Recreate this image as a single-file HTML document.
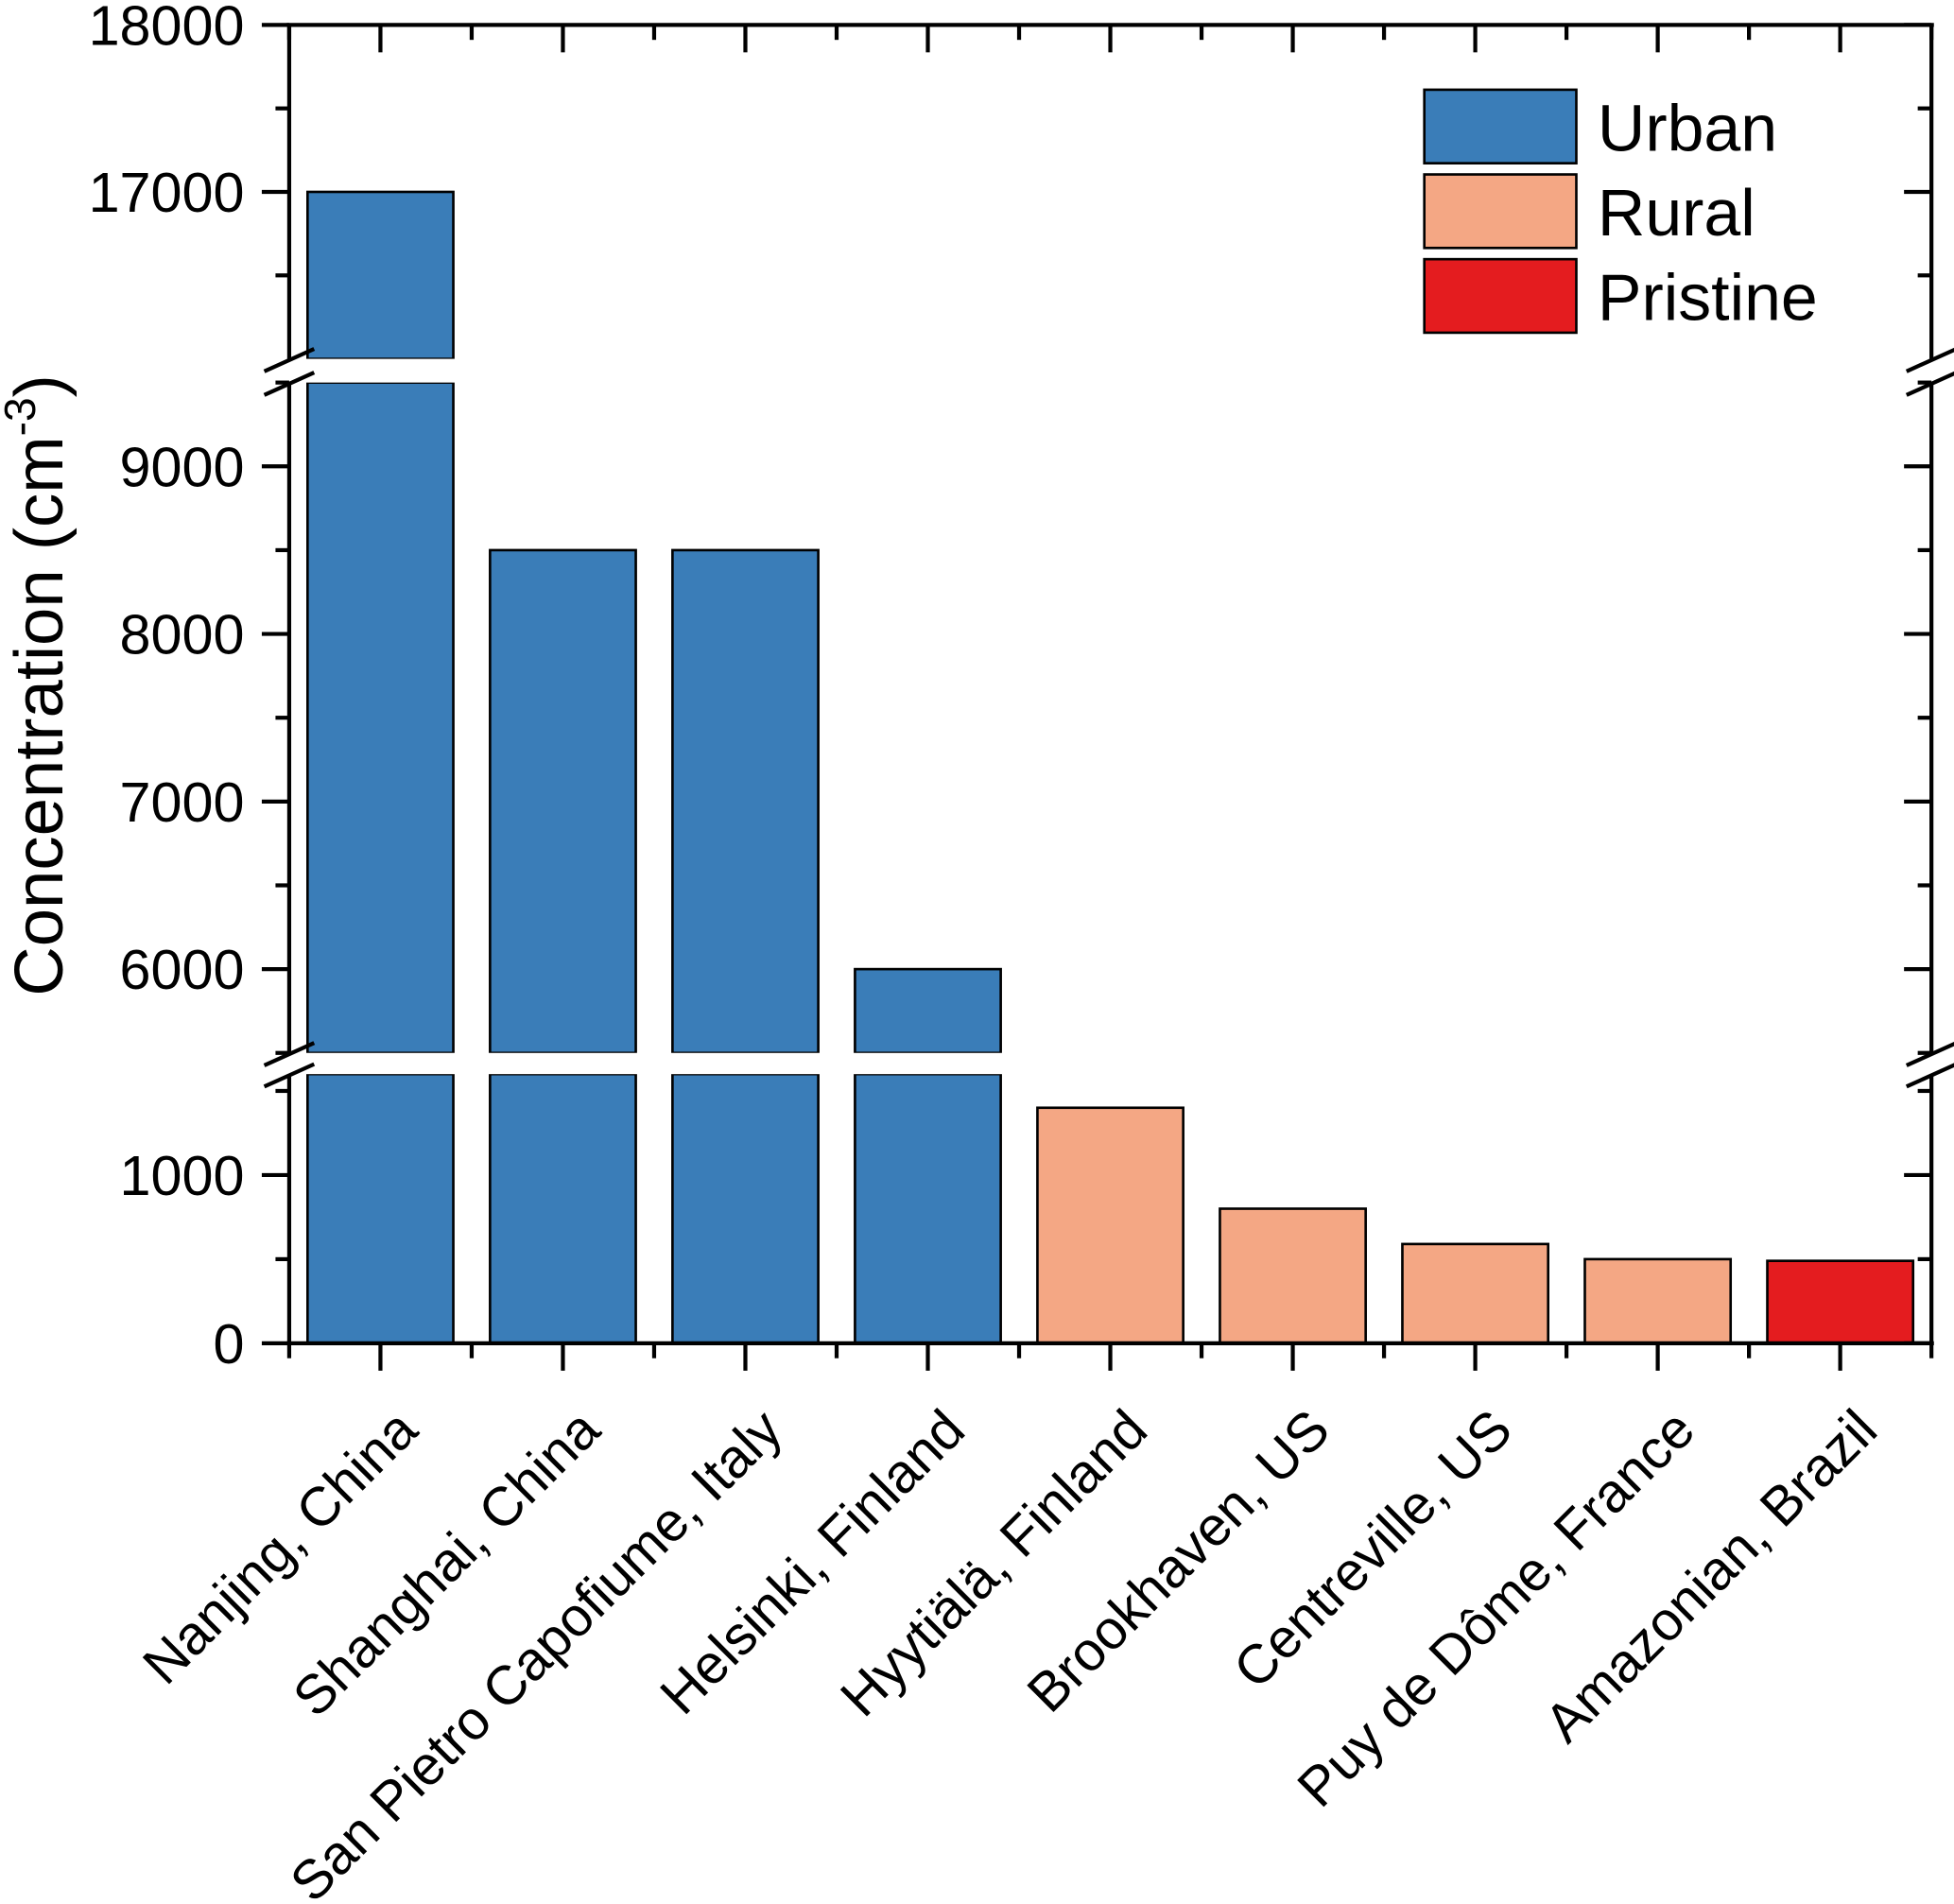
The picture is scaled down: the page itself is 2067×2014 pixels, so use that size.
<!DOCTYPE html>
<html><head><meta charset="utf-8"><style>
html,body{margin:0;padding:0;background:#fff;}
svg{display:block;font-family:"Liberation Sans",Arial,sans-serif;}
</style></head><body>
<svg id="chart" width="2067" height="2014" viewBox="0 0 1568 1528" xmlns="http://www.w3.org/2000/svg">
<g id="bars"></g>
<g id="axes"></g>
<g id="legend">
  <rect x="1143" y="72" width="122" height="59" fill="#3a7db8" stroke="#000" stroke-width="2"/>
  <rect x="1143" y="140" width="122" height="59" fill="#f4a784" stroke="#000" stroke-width="2"/>
  <rect x="1143" y="208" width="122" height="59" fill="#e41c1f" stroke="#000" stroke-width="2"/>
  <text x="1282" y="121" font-size="53">Urban</text>
  <text x="1282" y="189" font-size="53">Rural</text>
  <text x="1282" y="257" font-size="53">Pristine</text>
</g>
<text transform="translate(50,550) rotate(-90)" text-anchor="middle" font-size="55">Concentration (cm<tspan font-size="35" dy="-22">-3</tspan><tspan dy="22">)</tspan></text>
</svg>
<script>
const categories = ["Nanjing, China","Shanghai, China","San Pietro Capofiume, Italy","Helsinki, Finland","Hyytiälä, Finland","Brookhaven, US","Centreville, US","Puy de Dôme, France","Amazonian, Brazil"];
const values = [17000, 8500, 8500, 6000, 1400, 800, 590, 500, 490];
const groups = ["urban","urban","urban","urban","rural","rural","rural","rural","pristine"];
const segLow = [0, 5500, 16000];
const segHigh = [1600, 9500, 18000];
const majorTicks = [[0,1000],[6000,7000,8000,9000],[17000,18000]];
const minorTicks = [[500,1500],[5500,6500,7500,8500,9500],[16500,17500]];
const colors = {urban:"#3a7db8", rural:"#f4a784", pristine:"#e41c1f"};
const NS = "http://www.w3.org/2000/svg";
const X0 = 232, X1 = 1550;
const segPix = [[1078, 862], [845, 307], [288, 20]];
function yScale(v){
  for (let s=0;s<3;s++){
    if (v<=segHigh[s] || s===2){
      const [b,t]=segPix[s];
      return b + (v-segLow[s])/(segHigh[s]-segLow[s])*(t-b);
    }
  }
}
const step = (X1-X0)/categories.length;
function xCenter(i){ return X0 + step*(i+0.5); }
const bw = 117;
function mk(tag, attrs, parent){
  const e=document.createElementNS(NS,tag);
  for (const k in attrs) e.setAttribute(k, attrs[k]);
  parent.appendChild(e); return e;
}
const gb=document.getElementById('bars');
values.forEach((v,i)=>{
  const x=xCenter(i)-bw/2;
  for (let s=0;s<3;s++){
    if (v<=segLow[s]) continue;
    const top=yScale(Math.min(v,segHigh[s]));
    const bot=segPix[s][0];
    const r=mk('rect',{x:x,y:top,width:bw,height:bot-top,fill:colors[groups[i]],stroke:'#000','stroke-width':2},gb);
    
    
  }
  for (let s=0;s<2;s++){
    if (v>segHigh[s]){
      const w=mk('rect',{x:x-2,y:segPix[s+1][0],width:bw+4,height:segPix[s][1]-segPix[s+1][0],fill:'#fff'},gb);
      
      
    }
  }
});
const ga=document.getElementById('axes');
function line(x1,y1,x2,y2,name){
  const l=mk('line',{x1:x1,y1:y1,x2:x2,y2:y2,stroke:'#000','stroke-width':3.2},ga);
  
  
  return l;
}
for (let s=0;s<3;s++){
  line(X0,segPix[s][0],X0,segPix[s][1],'left-axis-segment');
  line(X1,segPix[s][0],X1,segPix[s][1],'right-axis-segment');
}
line(X0-2,1078,X1+2,1078,'x-axis');
line(X0-2,20,X1+2,20,'top-axis');
for (let s=0;s<2;s++){
  const ya=segPix[s][1], yb=segPix[s+1][0];
  [X0,X1].forEach(xx=>{
    line(xx-20,ya+10,xx+20,ya-8,'axis-break-mark');
    line(xx-20,yb+10,xx+20,yb-8,'axis-break-mark');
  });
}
majorTicks.forEach(arr=>arr.forEach(v=>{
  const y=yScale(v);
  line(X0-22,y,X0,y,'y-major-tick');
  line(X1-22,y,X1,y,'y-right-major-tick');
  const t=mk('text',{x:X0-36,y:y+16,'text-anchor':'end','font-size':45},ga);
  
  
  t.textContent=v;
}));
minorTicks.forEach(arr=>arr.forEach(v=>{
  const y=yScale(v);
  line(X0-11,y,X0,y,'y-minor-tick');
  line(X1-11,y,X1,y,'y-right-minor-tick');
}));
for (let i=0;i<=categories.length;i++){
  const xb=X0+step*i;
  line(xb,1078,xb,1090,'x-minor-tick');
  line(xb,20,xb,32,'top-minor-tick');
}
categories.forEach((c,i)=>{
  const xc=xCenter(i);
  line(xc,1078,xc,1100,'x-major-tick');
  line(xc,20,xc,42,'top-major-tick');
  const t=mk('text',{'text-anchor':'end','font-size':44,transform:'translate('+(xc+32)+',1150) rotate(-45)'},ga);
  
  
  t.textContent=c;
});
</script>
</body></html>
